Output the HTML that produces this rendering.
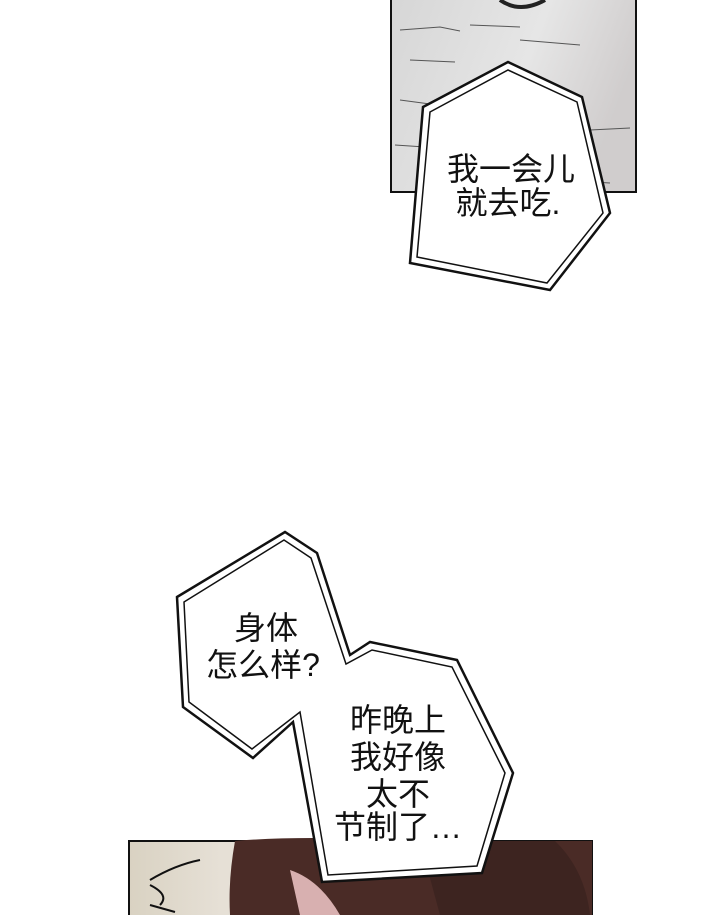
<!DOCTYPE html>
<html><head><meta charset="utf-8"><style>
html,body{margin:0;padding:0;background:#fff;}
svg{display:block;}
text{font-family:"Liberation Sans","Noto Sans CJK SC",sans-serif;font-size:32px;fill:#111;text-anchor:middle;}
</style></head><body>
<svg width="720" height="915" viewBox="0 0 720 915" xmlns="http://www.w3.org/2000/svg">
<defs>
<linearGradient id="g1" x1="0" y1="0" x2="1" y2="0.3">
<stop offset="0" stop-color="#d6d6d6"/><stop offset="0.6" stop-color="#e6e6e6"/><stop offset="1" stop-color="#d0cdcd"/>
</linearGradient>
<linearGradient id="bg2" x1="0" y1="0" x2="1" y2="0">
<stop offset="0" stop-color="#d9d2c2"/><stop offset="0.2" stop-color="#e6e0d6"/><stop offset="1" stop-color="#ddd"/>
</linearGradient>
</defs>
<rect x="391" y="-2" width="245" height="194" fill="url(#g1)" stroke="#111" stroke-width="2"/>
<path d="M500 0 Q520 14 545 0" stroke="#222" stroke-width="4" fill="none"/>
<g stroke="#555" stroke-width="1" fill="none">
<path d="M400 30 l40 -3 l20 4 M470 25 l50 2 M410 60 l45 2 M520 40 l60 5 M400 100 l30 4 M420 150 l30 3 M590 130 l40 -2 M395 145 l30 2 M560 180 l50 3"/>
</g>
<polygon points="423,107 508,62 582,97 610,213 550,290 410,263" fill="#fff" stroke="#111" stroke-width="2.5"/>
<polygon points="430,112 508,70 577,102 603,213 547,283 417,257" fill="none" stroke="#111" stroke-width="1.5"/>
<text x="511" y="180">我一会儿</text>
<text x="508" y="214">就去吃.</text>
<rect x="129" y="841" width="463" height="80" fill="url(#bg2)" stroke="#111" stroke-width="2"/>
<path d="M235 841 Q300 835 420 841 L592 841 L592 915 L230 915 Q228 880 235 841Z" fill="#4a2b26"/>
<path d="M420 841 L555 841 Q585 870 590 915 L440 915Z" fill="#3d2420"/>
<path d="M290 870 Q320 880 340 915 L300 915Z" fill="#d8b0b0"/>
<path d="M150 880 Q175 865 200 860 M150 885 Q170 895 160 905 M150 905 L175 912" stroke="#111" stroke-width="2" fill="none"/>
<polygon points="177,597 285,532 317,553 350,655 370,642 457,660 513,773 482,873 322,882 293,722 253,758 183,707" fill="#fff" stroke="#111" stroke-width="2.5"/>
<polygon points="184,602 284,540 311,558 346,664 372,650 452,667 505,773 477,866 328,875 300,712 252,749 189,702" fill="none" stroke="#111" stroke-width="1.5"/>
<text x="266" y="639">身体</text>
<text x="263" y="676">怎么样?</text>
<text x="398" y="731">昨晚上</text>
<text x="398" y="768">我好像</text>
<text x="398" y="805">太不</text>
<text x="398" y="838">节制了…</text>
</svg>
</body></html>
